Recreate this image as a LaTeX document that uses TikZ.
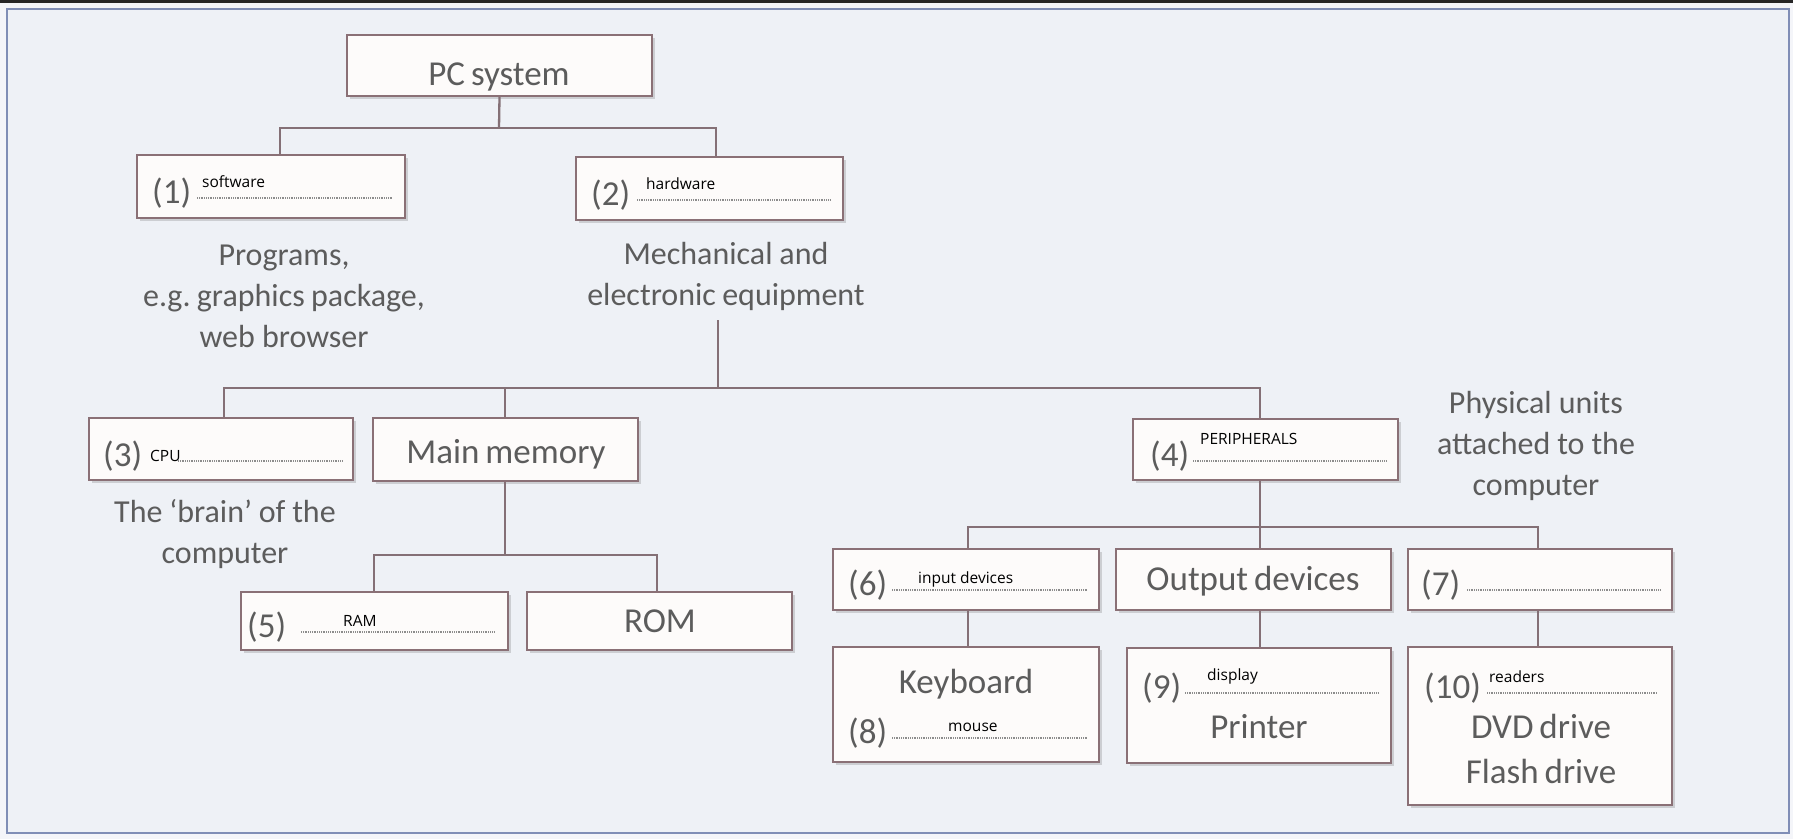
\documentclass[tikz,border=0pt]{standalone}
\usepackage{fontspec}
\setmainfont{Carlito}
\newfontfamily\lblfont{Open Sans}
\usetikzlibrary{shadows}
\newcommand\mytightsp{\spaceskip=0.17em plus 0.03em\relax}
\definecolor{bgc}{RGB}{238,241,246}
\definecolor{outerc}{RGB}{244,245,249}
\definecolor{framec}{RGB}{128,142,182}
\definecolor{boxc}{RGB}{138,112,118}
\definecolor{linec}{RGB}{132,112,118}
\definecolor{boxfill}{RGB}{253,251,250}
\definecolor{txt}{RGB}{92,92,92}
\definecolor{dotc}{RGB}{140,140,140}
\begin{document}
\begin{tikzpicture}[x=1pt,y=-1pt,
  box/.style={draw=boxc,line width=2.3pt,fill=boxfill,inner sep=0pt,
    drop shadow={shadow xshift=2.5pt,shadow yshift=-3pt,opacity=.3,fill=black!50}},
  conn/.style={draw=linec,line width=2.3pt},
  lab/.style={text=txt,font=\fontsize{35}{40}\selectfont\mytightsp,inner sep=0pt,anchor=base},
  num/.style={text=txt,font=\fontsize{35}{40}\selectfont,inner sep=0pt,anchor=base west},
  desc/.style={text=txt,font=\fontsize{32}{41}\selectfont,inner sep=0pt,anchor=base,align=center,text width=400pt,execute at begin node=\mytightsp},
  ans/.style={text=black,font=\lblfont\fontsize{15.5}{18}\selectfont,inner sep=0pt,anchor=base west},
  dots/.style={draw=dotc,line width=1.2pt,dash pattern=on 1pt off 0.8pt},
]
\useasboundingbox (0,0) rectangle (1793,839);
\fill[outerc] (0,0) rectangle (1793,839);
\fill[black!85] (0,0) rectangle (1793,3);
\draw[draw=framec,line width=2pt,fill=bgc] (7,9) rectangle (1789,833);

% ---- boxes ----
\node[box,minimum width=305pt,minimum height=61pt] (pc) at (499.5,65.5) {};
\node[box,minimum width=268pt,minimum height=63pt] (b1) at (271,186.5) {};
\node[box,minimum width=267pt,minimum height=63pt] (b2) at (709.5,188.5) {};
\node[box,minimum width=264pt,minimum height=62pt] (b3) at (221,449) {};
\node[box,minimum width=265pt,minimum height=63pt] (mm) at (505.5,449.5) {};
\node[box,minimum width=265pt,minimum height=61pt] (b4) at (1265.5,449.5) {};
\node[box,minimum width=267pt,minimum height=58pt] (b5) at (374.5,621) {};
\node[box,minimum width=265pt,minimum height=58pt] (rom) at (659.5,621) {};
\node[box,minimum width=266pt,minimum height=61pt] (b6) at (966,579.5) {};
\node[box,minimum width=275pt,minimum height=61pt] (out) at (1253.5,579.5) {};
\node[box,minimum width=264pt,minimum height=61pt] (b7) at (1540,579.5) {};
\node[box,minimum width=266pt,minimum height=115pt] (kb) at (966,704.5) {};
\node[box,minimum width=264pt,minimum height=115pt] (b9) at (1259,705.5) {};
\node[box,minimum width=264pt,minimum height=158pt] (b10) at (1540,726) {};

% ---- box texts ----
\node[lab] (tpc) at (499,85) {PC system};
\node[lab] (tmm) at (506,463) {Main memory};
\node[lab] (trom) at (660,632) {ROM};
\node[lab] (tout) at (1253,590) {Output devices};
\node[lab] (tkb) at (966,693) {Keyboard};
\node[lab] (tpr) at (1259,738) {Printer};
\node[lab] (tdvd) at (1541,738) {DVD drive};
\node[lab] (tfl) at (1541,783) {Flash drive};

\node[num] (n1) at (152,203) {(1)};
\node[num] (n2) at (591,205) {(2)};
\node[num] (n3) at (103,466) {(3)};
\node[num] (n4) at (1150,466) {(4)};
\node[num] (n5) at (247,637) {(5)};
\node[num] (n6) at (848,595) {(6)};
\node[num] (n7) at (1421,595) {(7)};
\node[num] (n8) at (848,743) {(8)};
\node[num] (n9) at (1142,698) {(9)};
\node[num] (n10) at (1424,698) {(10)};

\draw[dots] (197,198) -- (392,198);
\draw[dots] (637,200) -- (830,200);
\draw[dots] (178,461) -- (343,461);
\draw[dots] (1193,461) -- (1387,461);
\draw[dots] (301,632) -- (495,632);
\draw[dots] (892,590) -- (1087,590);
\draw[dots] (1467,590) -- (1660,590);
\draw[dots] (892,738) -- (1087,738);
\draw[dots] (1185,693) -- (1378,693);
\draw[dots] (1487,693) -- (1657,693);

\node[ans] (a1) at (202,187) {software};
\node[ans] (a2) at (646,189) {hardware};
\node[ans] (a3) at (150,461) {CPU};
\node[ans] (a4) at (1200,444) {PERIPHERALS};
\node[ans] (a5) at (343,626) {RAM};
\node[ans] (a6) at (918,583) {input devices};
\node[ans] (a8) at (948,731) {mouse};
\node[ans] (a9) at (1207,680) {display};
\node[ans] (a10) at (1489,682) {readers};

% ---- descriptions ----
\node[desc] (dprog) at (284,265) {Programs,\\e.g.\ graphics package,\\web browser};
\node[desc] (dmech) at (726,264) {Mechanical and\\electronic equipment};
\node[desc] (dbrain) at (225,522) {The `brain' of the\\computer};
\node[desc] (dphys) at (1536,413) {Physical units\\attached to the\\computer};

% ---- connectors ----
\coordinate (j1) at (499,128);
\coordinate (c1) at (280,128);
\coordinate (c2) at (716,128);
\draw[conn] (pc.south) -- (j1);
\draw[conn] (c1 |- b1.north) -- (c1) -- (c2) -- (c2 |- b2.north);

\coordinate (h0) at (718,320);
\coordinate (h1) at (718,388);
\coordinate (c3) at (224,388);
\coordinate (c4) at (505,388);
\coordinate (c5) at (1260,388);
\draw[conn] (h0) -- (h1);
\draw[conn] (c3 |- b3.north) -- (c3) -- (c5) -- (c5 |- b4.north);
\draw[conn] (c4) -- (c4 |- mm.north);

\coordinate (m1) at (505,555);
\coordinate (c6) at (374,555);
\coordinate (c7) at (657,555);
\draw[conn] (m1 |- mm.south) -- (m1);
\draw[conn] (c6 |- b5.north) -- (c6) -- (c7) -- (c7 |- rom.north);

\coordinate (p1) at (1260,527);
\coordinate (c8) at (968,527);
\coordinate (c9) at (1538,527);
\draw[conn] (p1 |- b4.south) -- (p1);
\draw[conn] (c8 |- b6.north) -- (c8) -- (c9) -- (c9 |- b7.north);
\draw[conn] (p1) -- (p1 |- out.north);

\draw[conn] (c8 |- b6.south) -- (c8 |- kb.north);
\draw[conn] (p1 |- out.south) -- (p1 |- b9.north);
\draw[conn] (c9 |- b7.south) -- (c9 |- b10.north);
\end{tikzpicture}
\end{document}
